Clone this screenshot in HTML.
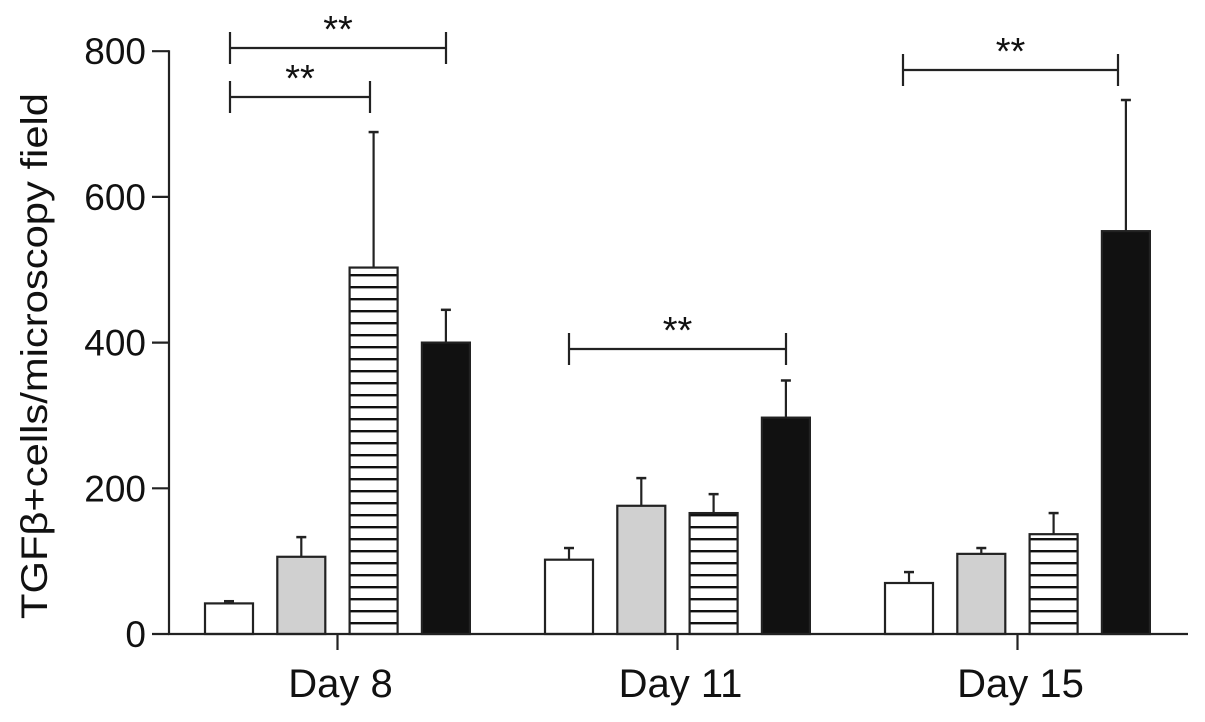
<!DOCTYPE html>
<html><head><meta charset="utf-8"><style>
body{margin:0;background:#fff}
svg{display:block;font-family:"Liberation Sans",Arial,sans-serif}
</style></head><body>
<svg id="chart" width="1205" height="722" viewBox="0 0 1205 722">
<defs>
<pattern id="stripes" patternUnits="userSpaceOnUse" width="10" height="12" y="634">
<rect width="10" height="12" fill="#fff"/><rect y="0" width="10" height="2.4" fill="#111"/>
</pattern>
</defs>
<g id="bars"></g>
<g id="axes"></g>
<g id="sig"></g>
</svg>
<script>
const categories = ["Day 8", "Day 11", "Day 15"];
const s1 = [42, 102, 70];
const s1err = [45, 118, 85];
const s2 = [106, 176, 110];
const s2err = [133, 214, 118];
const s3 = [503, 166, 137];
const s3err = [689, 192, 166];
const s4 = [400, 297, 553];
const s4err = [445, 348, 733];
const yTicks = [0, 200, 400, 600, 800];
const sigLabels = ["**", "**", "**", "**"];

const NS = "http://www.w3.org/2000/svg";
const y0 = 634, pxPer = 0.7285;
function yS(v){ return y0 - v * pxPer; }
const groupCenters = [337.5, 677.5, 1017.5];
function xS(g, s){ return groupCenters[g] - 132.5 + s * 72.3; }
const barW = 48;
function mk(tag, attrs, parent){ const e = document.createElementNS(NS, tag); for (const k in attrs) e.setAttribute(k, attrs[k]); parent.appendChild(e); return e; }
const bars = document.getElementById('bars'), axes = document.getElementById('axes'), sig = document.getElementById('sig');
const series = [[s1, s1err, "#fff", "white"], [s2, s2err, "#d0d0d0", "gray"], [s3, s3err, "url(#stripes)", "striped"], [s4, s4err, "#111", "black"]];
series.forEach((sr, si) => {
  sr[0].forEach((v, g) => {
    const x = xS(g, si);
    const er = mk('line', {x1: x + barW/2, x2: x + barW/2, y1: yS(v), y2: yS(sr[1][g]), stroke: "#222", "stroke-width": 2.2}, bars);
    
    
    const cap = mk('line', {x1: x + barW/2 - 5, x2: x + barW/2 + 5, y1: yS(sr[1][g]), y2: yS(sr[1][g]), stroke: "#222", "stroke-width": 2.5}, bars);
    
    
    const r = mk('rect', {x: x, y: yS(v), width: barW, height: y0 - yS(v), fill: sr[2], stroke: "#222", "stroke-width": 2.2}, bars);
    
    
  });
});
const ya = mk('line', {x1: 169, x2: 169, y1: yS(800) - 1, y2: y0 + 1, stroke: "#222", "stroke-width": 2.2}, axes);


const xa = mk('line', {x1: 168, x2: 1188, y1: y0, y2: y0, stroke: "#222", "stroke-width": 2.2}, axes);


yTicks.forEach(t => {
  const tk = mk('line', {x1: 152, x2: 169, y1: yS(t), y2: yS(t), stroke: "#222", "stroke-width": 2.2}, axes);
  
  
  const tl = mk('text', {x: 146, y: yS(t) + 13, "text-anchor": "end", "font-size": 37, fill: "#111"}, axes);
  tl.textContent = t;
  
  
});
categories.forEach((c, g) => {
  const tk = mk('line', {x1: groupCenters[g], x2: groupCenters[g], y1: y0, y2: y0 + 16, stroke: "#222", "stroke-width": 2.2}, axes);
  
  
  const tl = mk('text', {x: groupCenters[g] + 3, y: 697, "text-anchor": "middle", "font-size": 40, fill: "#111"}, axes);
  tl.textContent = c;
  
  
});
const yt = mk('text', {x: 0, y: 0, transform: "translate(47,356) rotate(-90)", "text-anchor": "middle", "font-size": 37, "textLength": 526, "lengthAdjust": "spacingAndGlyphs", fill: "#111"}, axes);
yt.textContent = "TGFβ+cells/microscopy field";


const brackets = [[230, 370, 97], [230, 446, 48], [569, 786, 349], [903, 1118, 70]];
brackets.forEach((b, i) => {
  const p = mk('path', {d: `M${b[0]},${b[2]-16} V${b[2]+16} M${b[0]},${b[2]} H${b[1]} M${b[1]},${b[2]-16} V${b[2]+16}`, fill: "none", stroke: "#222", "stroke-width": 2.2}, sig);
  
  
  const t = mk('text', {x: (b[0] + b[1]) / 2, y: b[2] - 6, "text-anchor": "middle", "font-size": 38, fill: "#111"}, sig);
  t.textContent = sigLabels[i];
  
  
});
</script>
</body></html>
